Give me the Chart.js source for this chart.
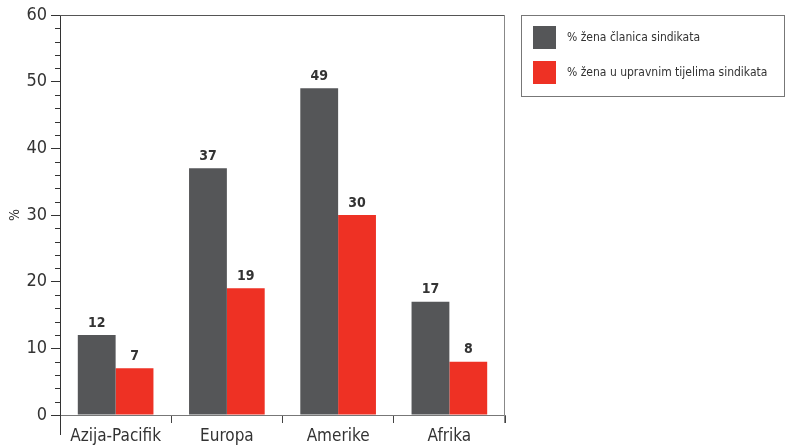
<!DOCTYPE html>
<html>
<head>
<meta charset="utf-8">
<script src="https://cdn.jsdelivr.net/npm/chart.js@4"></script>
<style>
  html, body { margin: 0; padding: 0; background: #fff; }
  #wrap { width: 786px; height: 445px; }
</style>
</head>
<body>
<div id="wrap"><canvas id="myChart"></canvas></div>
<script>
var regions = ["Azija-Pacifik", "Europa", "Amerike", "Afrika"];
var members = [12, 37, 49, 17];
var leaders = [7, 19, 30, 8];
var seriesNames = ["% žena članica sindikata", "% žena u upravnim tijelima sindikata"];
var seriesColors = ["#555658", "#ee3124"];

var FONT = "'DejaVu Sans Condensed', sans-serif";

// minor ticks, frame, value labels and the boxed legend
var extras = {
  id: "extras",
  afterDraw: function (chart) {
    var c = chart.ctx, a = chart.chartArea, y = chart.scales.y;
    c.save();
    c.strokeStyle = "#333";
    c.lineWidth = 1;
    for (var v = 0; v <= 60; v += 2) {
      if (v % 10 === 0) continue;
      var py = Math.round(y.getPixelForValue(v)) + 0.5;
      c.beginPath(); c.moveTo(a.left - 5, py); c.lineTo(a.left, py); c.stroke();
    }
    // left axis continues below zero
    c.beginPath(); c.moveTo(a.left + 0.5, a.bottom); c.lineTo(a.left + 0.5, a.bottom + 20); c.stroke();
    // top and right frame
    c.strokeStyle = "#555";
    c.beginPath(); c.moveTo(a.left, a.top + 0.5); c.lineTo(a.right, a.top + 0.5); c.stroke();
    c.strokeStyle = "#888";
    c.beginPath(); c.moveTo(a.right - 0.5, a.top); c.lineTo(a.right - 0.5, a.bottom + 8); c.stroke();

    // value labels
    c.fillStyle = "#333";
    c.font = "bold 14px " + FONT;
    c.textAlign = "center";
    c.textBaseline = "bottom";
    chart.data.datasets.forEach(function (ds, i) {
      chart.getDatasetMeta(i).data.forEach(function (bar, j) {
        c.fillText(ds.data[j], bar.x, bar.y - 5);
      });
    });

    // legend box
    var lx = 521, ly = 15, lw = 263, lh = 81;
    c.strokeStyle = "#777";
    c.strokeRect(lx + 0.5, ly + 0.5, lw, lh);
    c.font = "12px " + FONT;
    c.textAlign = "left";
    c.textBaseline = "middle";
    chart.data.datasets.forEach(function (ds, i) {
      var sy = 26 + i * 35;
      c.fillStyle = ds.backgroundColor;
      c.fillRect(533, sy, 23, 23);
      c.fillStyle = "#333";
      c.fillText(ds.label, 567, sy + 12);
    });
    c.restore();
  }
};

var ctx = document.getElementById("myChart").getContext("2d");
var myChart = new Chart(ctx, {
  type: "bar",
  data: {
    labels: regions,
    datasets: [
      { label: seriesNames[0], data: members, backgroundColor: seriesColors[0] },
      { label: seriesNames[1], data: leaders, backgroundColor: seriesColors[1] }
    ]
  },
  options: {
    responsive: true,
    maintainAspectRatio: false,
    animation: false,
    devicePixelRatio: 1,
    layout: { padding: { top: 15, right: 281, left: 0, bottom: 0 } },
    datasets: { bar: { categoryPercentage: 0.68, barPercentage: 1 } },
    plugins: { legend: { display: false }, tooltip: { enabled: false } },
    scales: {
      x: {
        afterFit: function (s) { s.height = 30; },
        grid: { offset: true, drawOnChartArea: false, tickLength: 8, color: "#444" },
        border: { color: "#777" },
        ticks: { color: "#333", font: { family: FONT, size: 17 }, padding: 3 }
      },
      y: {
        min: 0,
        max: 60,
        afterFit: function (s) { s.width = 60; },
        grid: { drawOnChartArea: false, tickLength: 9, color: "#333" },
        border: { color: "#333" },
        ticks: { stepSize: 10, color: "#333", font: { family: FONT, size: 18 }, padding: 4 },
        title: { display: true, text: "%", color: "#333", font: { family: FONT, size: 14 }, padding: { top: 7, bottom: 0 } }
      }
    }
  },
  plugins: [extras]
});
</script>
</body>
</html>
